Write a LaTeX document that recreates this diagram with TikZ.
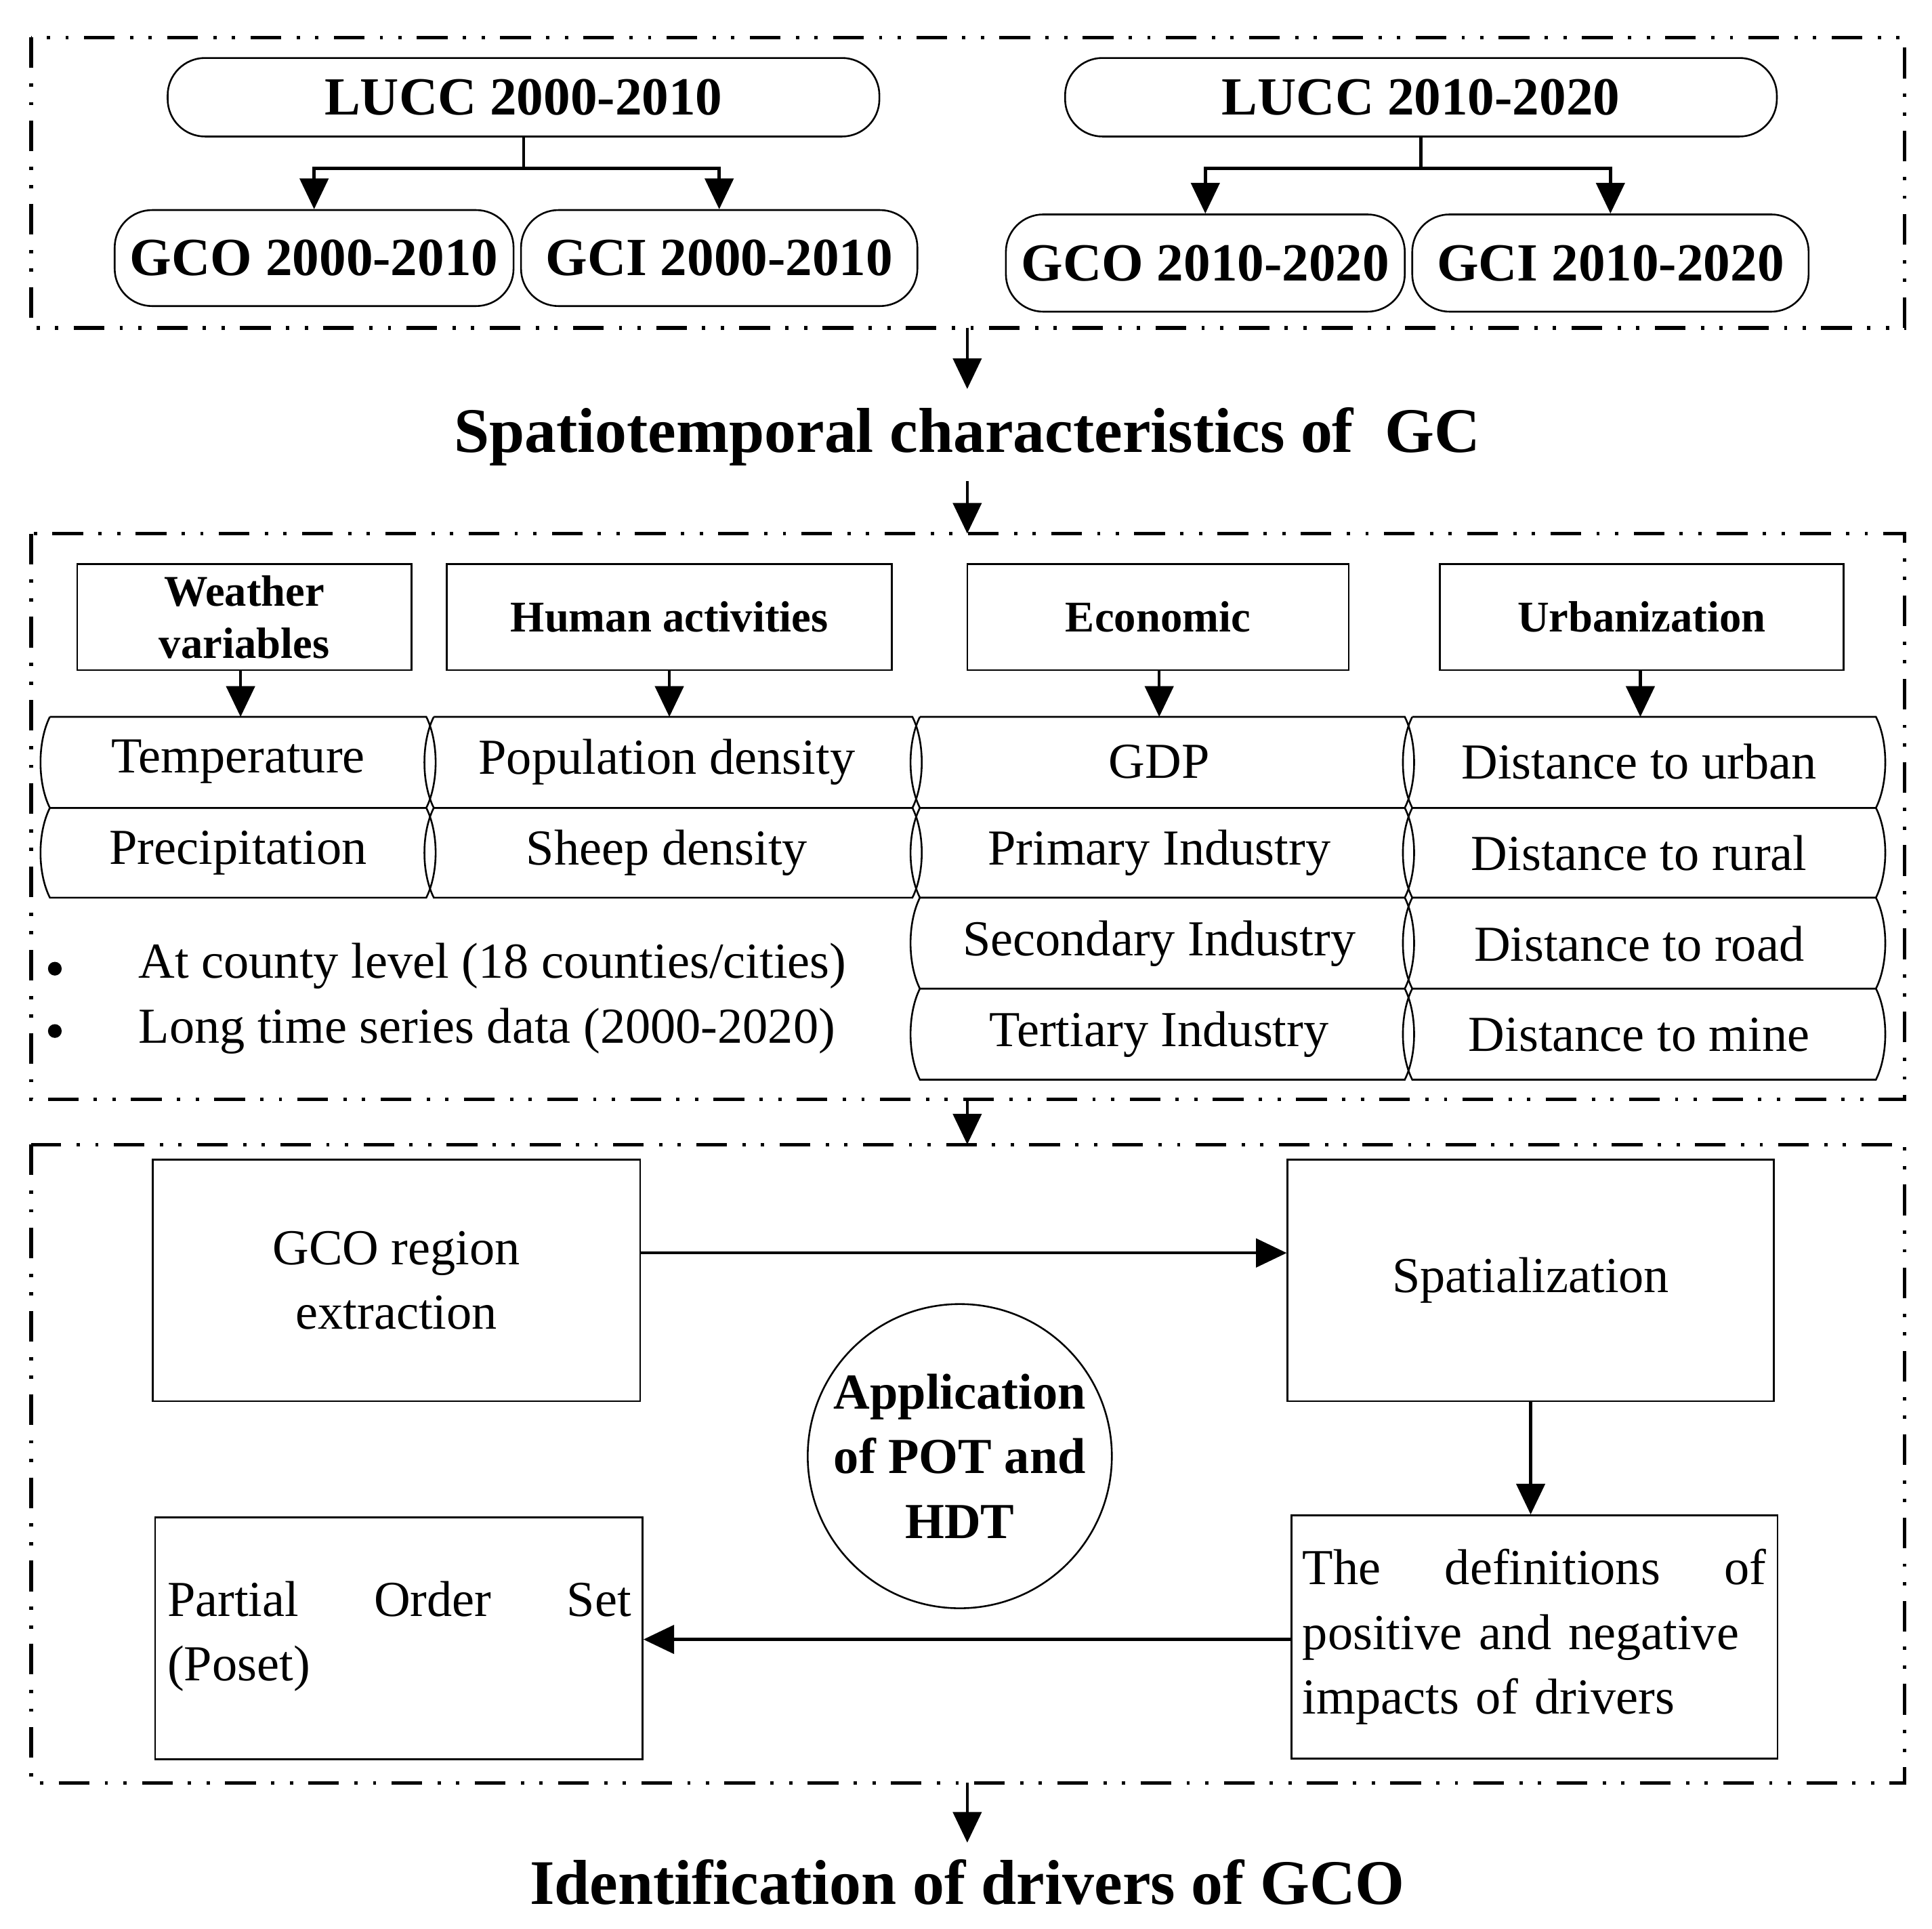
\documentclass[tikz,border=0pt]{standalone}
\usepackage{fontspec}
\setmainfont{Liberation Serif}
\usetikzlibrary{arrows.meta}
\begin{document}
\begin{tikzpicture}[x=0.02cm,y=-0.02cm,
 frame/.style={line width=1.6pt,dash pattern=on 14pt off 7pt on 1.5pt off 7pt on 1.5pt off 7pt},
 rbox/.style={draw,line width=0.8pt,rounded corners=0.6cm,inner sep=0pt,font=\fontsize{24.5}{28}\selectfont\bfseries},
 hbox/.style={draw,line width=0.8pt,inner sep=0pt,font=\fontsize{20}{24}\selectfont\bfseries,align=center},
 pbox/.style={draw,line width=0.8pt,inner sep=0pt,font=\fontsize{23}{29.5}\selectfont},
 arr/.style={line width=1.4pt,-{Triangle[length=14pt,width=13pt]}},
 cell/.style={font=\fontsize{23}{27}\selectfont}]
\useasboundingbox (0,0) rectangle (1550,1547);
\draw[frame] (25,30) rectangle (1528,263);
\draw[frame] (25,428) rectangle (1528,882);
\draw[frame] (25,918) rectangle (1528,1430);
% LUCC
\node[rbox,minimum width=571*0.02cm,minimum height=63*0.02cm] (l1) at (420,78) {LUCC 2000-2010};
\node[rbox,minimum width=571*0.02cm,minimum height=63*0.02cm] (l2) at (1140,78) {LUCC 2010-2020};
\node[rbox,minimum width=320*0.02cm,minimum height=77*0.02cm] (a1) at (252,207) {GCO 2000-2010};
\node[rbox,minimum width=318*0.02cm,minimum height=77*0.02cm] (b1) at (577,207) {GCI 2000-2010};
\node[rbox,minimum width=320*0.02cm,minimum height=78*0.02cm] (a2) at (967,211) {GCO 2010-2020};
\node[rbox,minimum width=318*0.02cm,minimum height=78*0.02cm] (b2) at (1292,211) {GCI 2010-2020};
\coordinate (j1) at (420,135); \coordinate (j2) at (1140,135);
\draw[line width=1.4pt] (l1.south) -- (j1); \draw[line width=1.4pt] (l2.south) -- (j2);
\draw[arr] (j1) -| (a1.north); \draw[arr] (j1) -| (b1.north);
\draw[arr] (j2) -| (a2.north); \draw[arr] (j2) -| (b2.north);
\coordinate (f1) at (776,263); \coordinate (f1b) at (776,312);
\draw[arr] (f1) -- (f1b);
\node[font=\fontsize{29}{34}\selectfont\bfseries] (t1) at (776,350) {Spatiotemporal characteristics of~ GC};
\coordinate (f2) at (776,428);
\draw[arr] (776,386) coordinate (t1b) -- (f2);
% headers
\node[hbox,minimum width=268*0.02cm,minimum height=85*0.02cm] (h1) at (196,495) {Weather\\variables};
\node[hbox,minimum width=357*0.02cm,minimum height=85*0.02cm] (h2) at (537,495) {Human activities};
\node[hbox,minimum width=306*0.02cm,minimum height=85*0.02cm] (h3) at (929,495) {Economic};
\node[hbox,minimum width=324*0.02cm,minimum height=85*0.02cm] (h4) at (1317,495) {Urbanization};
\foreach \h/\x in {h1/193,h2/537,h3/930,h4/1316}{\draw[arr] (\h.south -| \x,0) -- (\x,575);}
% cells
\newcommand{\cellshape}[4]{\draw[line width=0.8pt] (#1,#3) -- (#2,#3) .. controls (#2+10,#3+20) and (#2+10,#4-20) .. (#2,#4) -- (#1,#4) .. controls (#1-10,#4-20) and (#1-10,#3+20) .. (#1,#3);}
\foreach \xa/\xb/\ya/\yb in {40/342/575/648,40/342/648/720,348/732/575/648,348/732/648/720,738/1127/575/648,738/1127/648/720,738/1127/720/793,738/1127/793/866,1133/1505/575/648,1133/1505/648/720,1133/1505/720/793,1133/1505/793/866}{\cellshape{\xa}{\xb}{\ya}{\yb}}
\node[cell] (c11) at (191,611) {Temperature};
\node[cell] (c12) at (191,684) {Precipitation};
\node[cell] (c21) at (535,611) {Population density};
\node[cell] (c22) at (535,684) {Sheep density};
\node[cell] (c31) at (930,611) {GDP};
\node[cell] (c32) at (930,684) {Primary Industry};
\node[cell] (c33) at (930,757) {Secondary Industry};
\node[cell] (c34) at (930,830) {Tertiary Industry};
\node[cell] (c41) at (1315,611) {Distance to urban};
\node[cell] (c42) at (1315,684) {Distance to rural};
\node[cell] (c43) at (1315,757) {Distance to road};
\node[cell] (c44) at (1315,830) {Distance to mine};
\node[cell,anchor=west] (bl1) at (105,775) {At county level (18 counties/cities)};
\node[cell,anchor=west] (bl2) at (105,827) {Long time series data (2000-2020)};
\fill (44,777) circle (5.5);
\fill (44,827) circle (5.5);
\coordinate (f3) at (776,882); \coordinate (f3b) at (776,918);
\draw[arr] (f3) -- (f3b);
% box 3
\node[pbox,minimum width=391*0.02cm,minimum height=194*0.02cm,align=center] (g) at (318,1027) {GCO region\\extraction};
\node[pbox,minimum width=390*0.02cm,minimum height=194*0.02cm] (s) at (1228,1027) {Spatialization};
\node[pbox,minimum width=390*0.02cm,minimum height=195*0.02cm,text width=372*0.02cm,align=left] (d) at (1231,1313) {The\hfill definitions\hfill of\\positive and negative\\impacts of drivers};
\node[pbox,minimum width=391*0.02cm,minimum height=194*0.02cm] (p) at (320,1314) {};
\node[font=\fontsize{23}{29.5}\selectfont,text width=372*0.02cm,align=left,anchor=north west,inner sep=0pt] (pt) at (134,1268) {Partial\hfill Order\hfill Set\\(Poset)};
\node[draw,circle,line width=0.8pt,minimum size=244*0.02cm,inner sep=0pt,align=center,font=\fontsize{23}{29.5}\selectfont\bfseries] (c) at (770,1168) {Application\\of POT and\\HDT};
\draw[arr] (g.east |- 0,1005) -- (s.west |- 0,1005);
\draw[arr] (s.south) -- (d.north -| s.south);
\draw[arr] (d.west |- 0,1315) -- (p.east |- 0,1315);
\coordinate (f4) at (776,1430);
\draw[arr] (f4) -- (776,1478) coordinate (f4b);
\node[font=\fontsize{29}{34}\selectfont\bfseries] (t2) at (776,1510) {Identification of drivers of GCO};
\end{tikzpicture}
\end{document}
